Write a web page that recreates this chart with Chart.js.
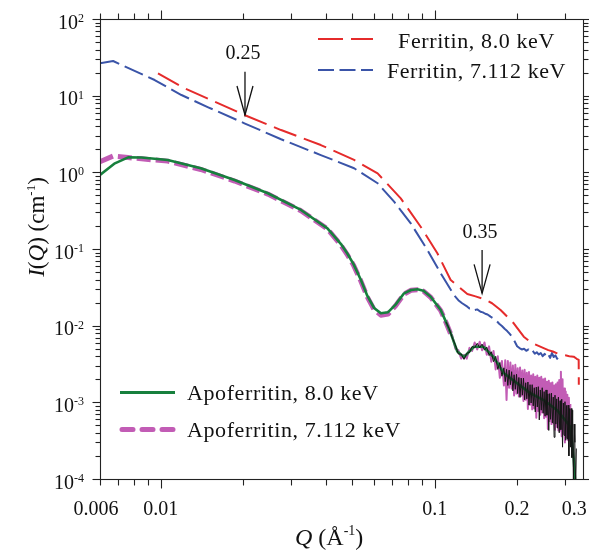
<!DOCTYPE html>
<html><head><meta charset="utf-8">
<script src="https://cdn.jsdelivr.net/npm/chart.js@4.4.0/dist/chart.umd.min.js"></script>
<style>html,body{margin:0;padding:0;background:#fff;}#wrap{width:589px;height:556px;position:relative;}</style>
</head><body><div id="wrap"><canvas id="c"></canvas></div>
<script>
// ---------------- data (Q in 1/Å, I in 1/cm) ----------------
const ferritin80Q = [0.00977,0.0122,0.0202,0.0275,0.0384,0.0508,0.0619,0.0752,0.0889,0.1023,0.1144,0.1316,0.1410,0.1512,0.1620,0.174,0.1944,0.2115,0.220,0.230,0.243,0.250,0.260,0.270,0.280,0.290,0.300,0.310,0.3218,0.330,0.3356,0.3360];
const ferritin80I = [19.6,12.5,5.6,3.56,2.27,1.45,0.97,0.458,0.195,0.0879,0.0394,0.0259,0.0241,0.0223,0.0196,0.0160,0.01074,0.00718,0.0064,0.0058,0.00532,0.0051,0.0048,0.0046,0.00436,0.0042,0.0041,0.0040,0.00394,0.0037,0.00357,0.0017];

const ferritin7Q = [0.006,0.0067,0.0095,0.0119,0.0149,0.0202,0.0275,0.0384,0.0508,0.0619,0.0711,0.0818,0.0941,0.1052,0.1176,0.122,0.126,0.1316,0.134,0.137,0.140,0.143,0.147,0.150,0.153,0.156,0.160,0.164,0.168,0.172,0.176,0.180,0.184,0.188,0.192,0.196,0.200,0.204,0.208,0.212,0.216,0.220,0.224,0.228,0.232,0.236,0.240,0.244,0.248,0.252,0.256,0.260,0.264,0.268,0.272,0.276,0.280,0.284];
const ferritin7I = [26.4,28.3,16.0,10.2,7.05,4.36,2.70,1.68,1.13,0.72,0.414,0.216,0.097,0.0482,0.0251,0.0215,0.0196,0.0177,0.0168,0.0172,0.0160,0.0163,0.0152,0.0149,0.0143,0.0140,0.0131,0.0124,0.0116,0.0106,0.0099,0.0091,0.0085,0.0078,0.0071,0.0062,0.0054,0.0051,0.0049,0.0050,0.0047,0.0049,0.0045,0.0047,0.0043,0.0045,0.0042,0.0044,0.0040,0.0043,0.0039,0.0042,0.0038,0.0044,0.0039,0.0041,0.0037,0.0040];

const apo80Q = [0.0060,0.0068,0.0076,0.0085,0.0106,0.0140,0.0186,0.0246,0.0325,0.0406,0.0455,0.0481,0.0505,0.0538,0.0568,0.0601,0.0636,0.0676,0.0720,0.0773,0.0820,0.0865,0.0910,0.0967,0.1052,0.1100,0.1144,0.1210,0.1280,0.1390,0.1510,0.1640,0.1790,0.2000,0.2240,0.2500,0.2800,0.3130,0.3220,0.3260];
const apo80I = [0.923,1.31,1.57,1.56,1.45,1.13,0.794,0.533,0.323,0.186,0.116,0.086,0.064,0.0394,0.0244,0.0170,0.0145,0.0150,0.0188,0.0264,0.0292,0.0298,0.0285,0.0239,0.0160,0.0112,0.0080,0.0046,0.0039,0.0053,0.0053,0.0039,0.0024,0.00177,0.00131,0.00107,0.00079,0.00048,0.00018,0.00009];

// noisy high-Q trace of the 8.0 keV apoferritin curve (drawn dark)
const apo80NoiseQ = [0.110,0.113,0.116,0.119,0.122,0.125,0.128,0.131,0.134,0.137,0.140,0.143,0.146,0.149,0.152,0.155,0.158,0.161,0.164,0.167,0.170,0.173,0.176,0.179,
0.181,0.183,0.185,0.187,0.189,0.191,0.193,0.195,0.197,0.199,
0.201,0.203,0.205,0.207,0.209,0.211,0.213,0.215,0.217,0.219,
0.221,0.223,0.225,0.227,0.229,0.231,0.233,0.235,0.237,0.239,
0.241,0.243,0.245,0.247,0.249,0.251,0.253,0.255,0.257,0.259,
0.261,0.263,0.265,0.267,0.269,0.271,0.273,0.275,0.277,0.279,
0.281,0.283,0.285,0.287,0.289,0.291,0.293,0.295,0.297,0.299,
0.301,0.303,0.305,0.307,0.309,0.311,0.313,0.315,0.317,0.319,
0.321,0.323,0.325,0.327,0.329];
const apo80NoiseI = [0.0112,0.00912,0.00692,0.00562,0.00427,0.00427,0.00363,0.00437,0.00447,0.00537,0.00513,0.00589,0.00513,0.00575,0.00479,0.00525,0.00407,0.00457,0.00339,0.00398,0.00269,0.00331,0.00219,0.00282,
0.00186,0.00269,0.00166,0.00263,0.0017,0.00251,0.00141,0.00229,0.00148,0.00232,
0.0013,0.00211,0.00116,0.00207,0.00124,0.00207,0.00108,0.0018,0.00111,0.00184,
0.00092,0.0017,0.00098,0.0017,0.0009,0.00155,0.00075,0.00158,0.00087,0.0016,
0.00059,0.00145,0.00079,0.00155,0.00072,0.00138,0.00066,0.00145,0.00068,0.00129,
0.00043,0.0013,0.0006,0.00132,0.00054,0.00117,0.00035,0.00124,0.00052,0.00111,
0.00046,0.00117,0.0004,0.00105,0.00044,0.0011,0.00026,0.00098,0.00037,0.00102,
0.00032,0.00091,0.00033,0.00092,0.0002,0.00083,0.00026,0.00083,0.00019,0.00079,
0.000087,0.00052,0.00030,0.000065,0.00025];

const apo7Q = [0.0060,0.0067,0.0076,0.0085,0.0106,0.0140,0.0186,0.0246,0.0325,0.0406,0.0455,0.0481,0.0505,0.0538,0.0568,0.0601,0.0636,0.0676,0.0720,0.0773,0.0820,0.0865,0.0910,0.0967,0.1052,0.1100,0.1144];
const apo7I = [1.38,1.63,1.56,1.50,1.40,1.09,0.77,0.52,0.315,0.183,0.112,0.083,0.062,0.038,0.0236,0.0162,0.0137,0.0142,0.0182,0.0258,0.0290,0.0295,0.0282,0.0235,0.0158,0.0110,0.0078];

const apo7NoiseQ = [0.110,0.113,0.116,0.119,0.122,0.125,0.128,0.131,0.134,0.137,0.140,0.143,0.146,0.149,0.152,0.155,0.158,0.161,0.164,0.167,0.170,0.173,0.176,0.179,
0.181,0.183,0.185,0.187,0.189,0.191,0.193,0.195,0.197,0.199,
0.201,0.203,0.205,0.207,0.209,0.211,0.213,0.215,0.217,0.219,
0.221,0.223,0.225,0.227,0.229,0.231,0.233,0.235,0.237,0.239,
0.241,0.243,0.245,0.247,0.249,0.251,0.253,0.255,0.257,0.259,
0.261,0.263,0.265,0.267,0.269,0.271,0.273,0.275,0.277,0.279,
0.281,0.283,0.285,0.287,0.289,0.291,0.293,0.295,0.297,0.299,
0.301,0.303,0.305,0.307,0.309,0.311,0.313];
const apo7NoiseI = [0.011,0.00851,0.00741,0.00501,0.00479,0.00372,0.00417,0.00372,0.00513,0.00468,0.00603,0.0049,0.00617,0.00479,0.00603,0.00417,0.00537,0.00339,0.00468,0.00269,0.00398,0.00209,0.00347,0.00166,
0.00355,0.00107,0.00347,0.00155,0.00331,0.00151,0.00302,0.00123,0.00309,0.0013,
0.00279,0.00119,0.00285,0.00122,0.0026,0.00104,0.00266,0.00108,0.00243,0.00082,
0.00248,0.00093,0.00224,0.00081,0.00232,0.00083,0.00216,0.00063,0.00224,0.00077,
0.00209,0.00069,0.00216,0.00074,0.002,0.00062,0.00204,0.00065,0.00186,0.00045,
0.00191,0.00057,0.00178,0.00052,0.00182,0.00054,0.00166,0.00044,0.00172,0.00048,
0.00182,0.00043,0.00195,0.00043,0.00251,0.00036,0.002,0.00039,0.00151,0.0003,
0.00138,0.00035,0.00126,0.00032,0.00115,0.00032,0.00095];

// tick labels
const xLabelValues = [0.006, 0.01, 0.1, 0.2, 0.3];
const xLabelTexts  = ['0.006', '0.01', '0.1', '0.2', '0.3'];
const yDecadeValues = [1e-4, 1e-3, 1e-2, 1e-1, 1, 10, 100];
const yDecadeExps   = ['-4', '-3', '-2', '-1', '0', '1', '2'];
const xMajorTicks = [0.01, 0.1];

// annotations (arrows)
const arrowQ      = [0.0203, 0.149];
const arrowTopI   = [20.5, 0.097];
const arrowTipI   = [5.6, 0.0264];
const arrowLabels = ['0.25', '0.35'];
const arrowLabelI = [36.8, 0.173];

// legend
const seriesNames = ['Ferritin, 8.0 keV', 'Ferritin, 7.112 keV', 'Apoferritin, 8.0 keV', 'Apoferritin, 7.112 keV'];

// ---------------- styling ----------------
const RED = '#e52b2b', BLUE = '#3a54a8', GREEN = '#17803d', MAG = '#c25cb5', BLK = '#151515';
const SERIF = '"Liberation Serif", "Times New Roman", serif';
const pts = (q, v) => q.map((x, i) => ({x, y: v[i]}));

function fontFor(p, size) {
  return (p.italic ? 'italic ' : '') + (p.sup ? p.supSize || Math.round(size * 0.58) : size) + 'px ' + SERIF;
}
function richWidth(ctx, parts, size) {
  let w = 0;
  parts.forEach(p => { ctx.font = fontFor(p, size); w += ctx.measureText(p.t).width; });
  return w;
}
function drawRich(ctx, parts, x, y, size) {
  let cx = x;
  parts.forEach(p => {
    ctx.font = fontFor(p, size);
    ctx.fillText(p.t, cx, y - (p.sup ? (p.raise || size * 0.36) : 0));
    cx += ctx.measureText(p.t).width;
  });
}

const decorPlugin = {
  id: 'decor',
  afterDraw(chart) {
    const {ctx, chartArea: a, scales: {x, y}} = chart;
    ctx.save();
    ctx.strokeStyle = '#222';
    ctx.fillStyle = '#111';
    ctx.lineWidth = 1.1;
    const L = Math.round(a.left) + 0.5, R = Math.round(a.right) + 0.5, T = Math.round(a.top) + 0.5, B = Math.round(a.bottom) + 0.5;
    ctx.strokeRect(L, T, R - L, B - T);
    const seg = (x1, y1, x2, y2) => { ctx.beginPath(); ctx.moveTo(x1, y1); ctx.lineTo(x2, y2); ctx.stroke(); };

    // x ticks (outward, top and bottom)
    const xt = [];
    for (let e = -3; e <= -1; e++) for (let k = 1; k <= 9; k++) xt.push(k * Math.pow(10, e));
    xt.forEach(v => {
      if (v < x.min * 0.999 || v > x.max) return;
      const px = Math.round(x.getPixelForValue(v)) + 0.5;
      const major = xMajorTicks.some(m => Math.abs(m - v) < 1e-9);
      const len = major ? 9 : 6;
      seg(px, B, px, B + len);
      seg(px, T, px, T - len);
    });
    // y ticks (outward, left and right)
    for (let e = -4; e <= 2; e++) {
      for (let k = 1; k <= 9; k++) {
        const v = k * Math.pow(10, e);
        if (v > y.max * 1.0001) continue;
        const py = Math.round(y.getPixelForValue(v)) + 0.5;
        const len = k === 1 ? 8 : 5;
        seg(L, py, L - len, py);
        seg(R, py, R + len, py);
      }
    }

    // x tick labels
    ctx.textBaseline = 'alphabetic';
    ctx.font = '20px ' + SERIF;
    ctx.textAlign = 'center';
    const xShift = {'0.006': -4, '0.3': 9};
    xLabelValues.forEach((v, i) => {
      const px = x.getPixelForValue(v) + (xShift[xLabelTexts[i]] || 0);
      ctx.fillText(xLabelTexts[i], px, B + 35);
    });
    // y tick labels: 10^n
    ctx.textAlign = 'left';
    yDecadeValues.forEach((v, i) => {
      const py = y.getPixelForValue(v);
      const parts = [{t: '10'}, {t: yDecadeExps[i], sup: true, supSize: 12, raise: 6.5}];
      const w = richWidth(ctx, parts, 20);
      drawRich(ctx, parts, 84 - w, py + 9.5, 20);
    });

    // axis titles
    const xt1 = [{t: 'Q', italic: true}, {t: ' (Å'}, {t: '-1', sup: true, supSize: 14, raise: 10}, {t: ')'}];
    drawRich(ctx, xt1, 295, 545, 24);
    ctx.save();
    ctx.translate(44, 227);
    ctx.rotate(-Math.PI / 2);
    const yt1 = [{t: 'I', italic: true}, {t: '('}, {t: 'Q', italic: true}, {t: ') (cm'}, {t: '-1', sup: true, supSize: 13, raise: 9}, {t: ')'}];
    const yw = richWidth(ctx, yt1, 23);
    drawRich(ctx, yt1, -yw / 2, 0, 23);
    ctx.restore();

    // arrows with labels
    ctx.strokeStyle = '#111';
    ctx.lineWidth = 1.3;
    arrowQ.forEach((q, i) => {
      const px = x.getPixelForValue(q);
      const top = y.getPixelForValue(arrowTopI[i]);
      const tip = y.getPixelForValue(arrowTipI[i]);
      seg(px, top, px, tip);
      ctx.beginPath();
      ctx.moveTo(px - 8, tip - 29); ctx.lineTo(px, tip); ctx.lineTo(px + 8, tip - 29);
      ctx.stroke();
      ctx.font = '20px ' + SERIF;
      ctx.textAlign = 'center';
      ctx.fillText(arrowLabels[i], px - 2, y.getPixelForValue(arrowLabelI[i]) + 7);
    });

    // legends
    const legFont = '22px ' + SERIF;
    const setLS = v => { if ('letterSpacing' in ctx) ctx.letterSpacing = v; };
    const sample = (x1, x2, yy, color, width, dash, cap) => {
      ctx.save();
      ctx.strokeStyle = color; ctx.lineWidth = width; ctx.setLineDash(dash); ctx.lineCap = cap || 'butt';
      seg(x1, yy, x2, yy);
      ctx.restore();
    };
    sample(318, 373, 39, RED, 2.2, [25, 8]);
    sample(318, 373, 70, BLUE, 2.2, [16, 5.5]);
    sample(120, 175, 392.5, GREEN, 3, []);
    sample(122, 173, 429.5, MAG, 5, [11, 9], 'round');
    ctx.font = legFont; setLS('0.6px');
    ctx.fillStyle = '#111';
    ctx.textAlign = 'center';
    ctx.fillText(seriesNames[0], 476.5, 48);
    ctx.fillText(seriesNames[1], 476.5, 78);
    ctx.textAlign = 'left';
    ctx.fillText(seriesNames[2], 187, 399.5);
    ctx.fillText(seriesNames[3], 187, 436.5);
    setLS('0px');
    ctx.restore();
  }
};

new Chart(document.getElementById('c'), {
  type: 'line',
  data: {
    datasets: [
      {label: 'Apoferritin, 8.0 keV (noisy)', data: pts(apo80NoiseQ, apo80NoiseI), borderColor: BLK, borderWidth: 1, pointRadius: 0},
      {label: seriesNames[2], data: pts(apo80Q, apo80I), borderColor: GREEN, borderWidth: 2.6, pointRadius: 0},
      {label: 'Apoferritin, 7.112 keV (noisy)', data: pts(apo7NoiseQ, apo7NoiseI), borderColor: MAG, borderWidth: 2, pointRadius: 0},
      {label: seriesNames[3], data: pts(apo7Q, apo7I), borderColor: MAG, borderWidth: 5, borderDash: [14, 5], pointRadius: 0},
      {label: seriesNames[0], data: pts(ferritin80Q, ferritin80I), borderColor: RED, borderWidth: 2, borderDash: [24, 8], pointRadius: 0},
      {label: seriesNames[1], data: pts(ferritin7Q, ferritin7I), borderColor: BLUE, borderWidth: 2, borderDash: [20, 6], pointRadius: 0}
    ]
  },
  options: {
    responsive: true,
    maintainAspectRatio: false,
    animation: false,
    layout: {padding: {left: 100, right: 6, top: 19, bottom: 77}},
    plugins: {legend: {display: false}, tooltip: {enabled: false}},
    elements: {line: {tension: 0, fill: false, borderJoinStyle: 'round'}, point: {radius: 0}},
    scales: {
      x: {type: 'logarithmic', min: 0.006, max: 0.348, display: false},
      y: {type: 'logarithmic', min: 1e-4, max: 100, display: false}
    }
  },
  plugins: [decorPlugin]
});
</script>
</body></html>
